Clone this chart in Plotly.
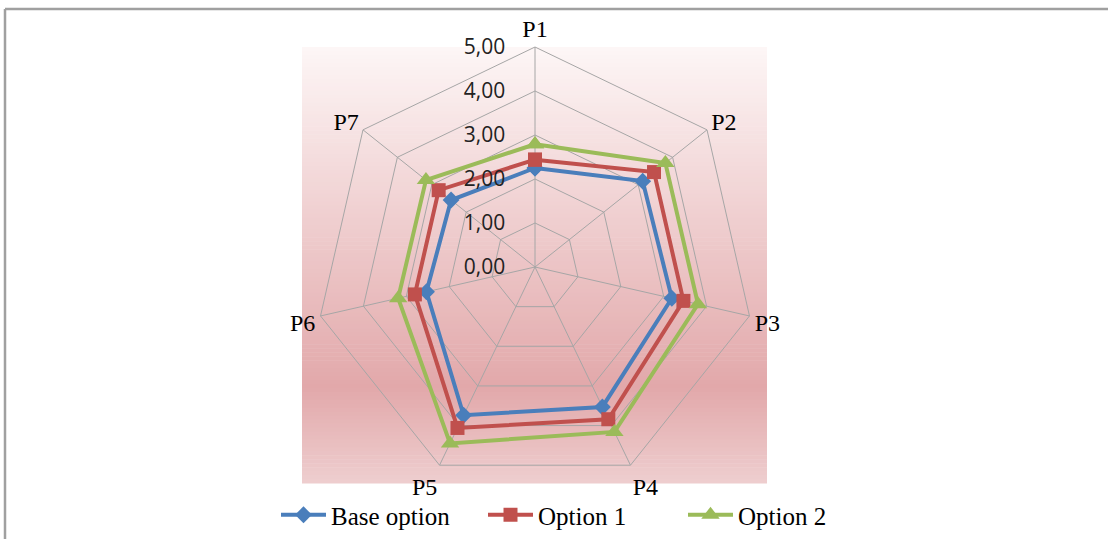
import plotly.graph_objects as go

categories = ["P1", "P2", "P3", "P4", "P5", "P6", "P7"]
base_option = [2.25, 3.13, 3.19, 3.53, 3.74, 2.53, 2.44]
option_1 = [2.44, 3.46, 3.46, 3.84, 4.06, 2.80, 2.80]
option_2 = [2.79, 3.79, 3.80, 4.16, 4.45, 3.19, 3.17]
radial_ticks = [0, 1, 2, 3, 4, 5]

series = [
    ("Base option", base_option, "#4a7ebb", "diamond", 13, "legend"),
    ("Option 1", option_1, "#c0504d", "square", 14, "legend2"),
    ("Option 2", option_2, "#9bbb59", "triangle-up", 16, "legend3"),
]

fig = go.Figure()
for name, vals, color, sym, size, lg in series:
    fig.add_trace(go.Scatterpolar(
        r=vals + vals[:1],
        theta=categories + categories[:1],
        mode="lines+markers",
        name=name,
        legend=lg,
        line=dict(color=color, width=4),
        marker=dict(symbol=sym, size=size, color=color),
    ))

W, H = 1108, 539
cx, cy, R = 535, 267, 220

# background gradient strips
x0, x1, y0, y1 = 302, 767, 47, 483
stops = [(0.0, (253, 246, 246)), (0.78, (226, 168, 170)), (1.0, (238, 206, 207))]

def col(t):
    for (ta, ca), (tb, cb) in zip(stops[:-1], stops[1:]):
        if ta <= t <= tb:
            f = (t - ta) / (tb - ta)
            c = [round(a + (b - a) * f) for a, b in zip(ca, cb)]
            return "rgb(%d,%d,%d)" % tuple(c)
    return "rgb(%d,%d,%d)" % stops[-1][1]

shapes = []
n = 110
for i in range(n):
    ya = y0 + (y1 - y0) * i / n
    yb = y0 + (y1 - y0) * (i + 1) / n + 0.6
    shapes.append(dict(type="rect", xref="paper", yref="paper",
                       x0=x0 / W, x1=x1 / W, y0=1 - yb / H, y1=1 - ya / H,
                       fillcolor=col((i + 0.5) / n), line=dict(width=0), layer="below"))
# outer frame (top and left)
shapes.append(dict(type="line", xref="paper", yref="paper", x0=5 / W, x1=1, y0=1 - 9 / H, y1=1 - 9 / H,
                   line=dict(color="#a0a0a0", width=2.5), layer="below"))
shapes.append(dict(type="line", xref="paper", yref="paper", x0=5 / W, x1=5 / W, y0=0, y1=1 - 9 / H,
                   line=dict(color="#a0a0a0", width=2.5), layer="below"))

serif = "Liberation Serif"
leg_common = dict(orientation="h", xanchor="left", y=1 - 515 / H, yanchor="middle",
                  font=dict(family=serif, size=25, color="black"),
                  bgcolor="rgba(0,0,0,0)", itemwidth=45)

fig.update_layout(
    width=W, height=H,
    margin=dict(l=0, r=0, t=0, b=0),
    paper_bgcolor="white",
    separators=",.",
    shapes=shapes,
    polar=dict(
        domain=dict(x=[(cx - R) / W, (cx + R) / W], y=[1 - (cy + R) / H, 1 - (cy - R) / H]),
        bgcolor="rgba(0,0,0,0)",
        gridshape="linear",
        radialaxis=dict(
            range=[0, 5], tickvals=radial_ticks, tickformat=".2f",
            angle=90, side="counterclockwise", tickangle=90,
            showline=False, ticks="outside", ticklen=22, tickcolor="rgba(0,0,0,0)",
            gridcolor="#a6a6a6", gridwidth=1,
            tickfont=dict(family="Open Sans", size=21, color="#222222"),
        ),
        angularaxis=dict(
            direction="clockwise", rotation=90,
            linecolor="#a6a6a6", linewidth=1,
            gridcolor="#a6a6a6", gridwidth=1,
            ticks="outside", ticklen=0, tickcolor="rgba(0,0,0,0)",
            tickfont=dict(family=serif, size=24, color="black"),
        ),
    ),
    showlegend=True,
    legend=dict(x=276 / W, **leg_common),
    legend2=dict(x=483 / W, **leg_common),
    legend3=dict(x=683 / W, **leg_common),
)

fig.write_html("out.html", config={"displayModeBar": False},
               post_script="document.body.style.margin='0';document.body.style.padding='0';")
